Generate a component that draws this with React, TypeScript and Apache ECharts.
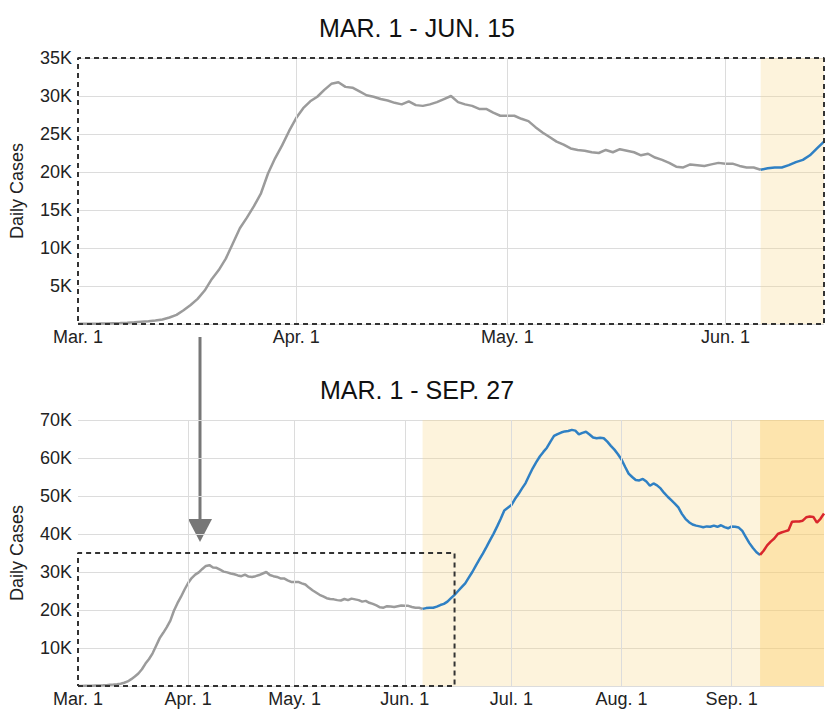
import React, { useEffect, useRef } from "react";
import * as echarts from "echarts";

// Daily new cases (thousands), one value per day from Mar. 1 (index 0) to Sep. 27 (index 210)
const dailyCases: number[] = [
  0.02, 0.03, 0.04, 0.05, 0.07, 0.1, 0.13, 0.17, 0.22, 0.3,
  0.37, 0.45, 0.6, 0.85, 1.2, 1.8, 2.5, 3.3, 4.4, 5.9,
  7.1, 8.6, 10.6, 12.6, 14.0, 15.5, 17.2, 19.8, 21.8, 23.5,
  25.4, 27.1, 28.4, 29.3, 29.9, 30.8, 31.6, 31.8, 31.2, 31.1,
  30.6, 30.1, 29.9, 29.6, 29.4, 29.1, 28.9, 29.3, 28.8, 28.7,
  28.9, 29.2, 29.6, 30.0, 29.2, 28.9, 28.7, 28.3, 28.3, 27.8,
  27.4, 27.4, 27.4, 27.0, 26.7, 25.9, 25.2, 24.6, 24.0, 23.6,
  23.1, 22.9, 22.8, 22.6, 22.5, 22.9, 22.6, 23.0, 22.8, 22.6,
  22.2, 22.4, 21.9, 21.6, 21.2, 20.7, 20.6, 21.0, 20.9, 20.8,
  21.0, 21.2, 21.1, 21.1, 20.8, 20.6, 20.6, 20.3, 20.5, 20.6,
  20.6, 20.9, 21.3, 21.6, 22.2, 23.1, 24.0, 25.0, 26.0, 27.0,
  28.5, 30.0, 31.7, 33.3, 34.9, 36.6, 38.4, 40.1, 42.0, 44.0,
  46.2, 46.9, 47.6, 49.2, 50.5, 52.0, 53.4, 55.4, 57.3, 58.9,
  60.4, 61.6, 62.7, 64.3, 65.8, 66.3, 66.7, 67.0, 67.1, 67.4,
  67.2, 66.2, 66.6, 66.9, 66.2, 65.4, 65.2, 65.3, 65.2, 64.3,
  63.2, 62.2, 61.0, 59.6, 57.7, 55.9, 55.0, 54.2, 54.1, 54.5,
  53.8, 52.7, 53.3, 52.8, 52.0, 50.8, 49.8, 48.9, 48.0, 47.0,
  45.3, 44.0, 43.1, 42.5, 42.2, 42.0, 41.8, 42.0, 41.9, 42.2,
  41.9, 42.3, 41.8, 41.5, 42.0, 41.9, 41.7, 40.8, 39.2, 37.6,
  36.3, 35.2, 34.5, 35.6, 37.0, 38.0, 38.8, 40.0, 40.4, 40.7,
  41.0, 43.2, 43.3, 43.3, 43.5, 44.4, 44.6, 44.5, 43.0, 44.0,
  45.4,
];

// Phase boundaries (day index from Mar. 1)
const blueStartDay = 97; // Jun. 6
const redStartDay = 192; // Sep. 9
const zoomEndDay = 106; // Jun. 15
const lastDay = 210; // Sep. 27
const zoomMaxCases = 35;

// Month tick positions and labels
const monthStartDays = [0, 31, 61, 92, 122, 153, 184];
const monthLabels = ["Mar. 1", "Apr. 1", "May. 1", "Jun. 1", "Jul. 1", "Aug. 1", "Sep. 1"];

const titles = ["MAR. 1 - JUN. 15", "MAR. 1 - SEP. 27"];

const GRAY = "#9b9b9b";
const BLUE = "#2f80c4";
const RED = "#d9262c";
const GRID = "#dcdcdc";
const FONT = "'Liberation Sans', Arial, Helvetica, sans-serif";

function pairs(from: number, to: number) {
  const out: [number, number][] = [];
  for (let d = from; d <= to && d < dailyCases.length; d++) out.push([d, dailyCases[d]]);
  return out;
}

const labelFor = (v: number) => {
  const i = monthStartDays.indexOf(Math.round(v));
  return i >= 0 ? monthLabels[i] : "";
};

export default function App() {
  const ref = useRef<HTMLDivElement>(null);

  useEffect(() => {
    document.body.style.margin = "0";
    const chart = echarts.init(ref.current!, null, { renderer: "svg" });

    const rect = [
      [0, 0],
      [zoomEndDay, 0],
      [zoomEndDay, zoomMaxCases],
      [0, zoomMaxCases],
      [0, 0],
    ];

    const xAxisBase = (gridIndex: number, max: number) => {
      const ticks = monthStartDays.filter((d) => d <= max);
      return {
        gridIndex,
        type: "value",
        min: 0,
        max,
        axisLine: { show: false },
        axisTick: { show: false, customValues: ticks },
        splitLine: { show: false },
        axisLabel: {
          customValues: ticks,
          formatter: (v: number) => labelFor(v),
          color: "#222",
          fontSize: 18,
          fontFamily: FONT,
          margin: 4,
        },
      };
    };

    const yAxisBase = (gridIndex: number, max: number, interval: number) => ({
      gridIndex,
      type: "value",
      min: 0,
      max,
      interval,
      axisLine: { show: false },
      axisTick: { show: false },
      splitLine: { lineStyle: { color: GRID, width: 1 } },
      axisLabel: {
        formatter: (v: number) => (v === 0 ? "" : v + "K"),
        color: "#222",
        fontSize: 18,
        fontFamily: FONT,
        margin: 6,
      },
      name: "Daily Cases",
      nameLocation: "middle",
      nameGap: 52,
      nameTextStyle: { fontSize: 18, color: "#222", fontFamily: FONT },
    });

    const lineSeries = (axis: number, data: [number, number][], color: string) => ({
      type: "line",
      xAxisIndex: axis,
      yAxisIndex: axis,
      data,
      showSymbol: false,
      symbol: "none",
      smooth: false,
      z: 4,
      lineStyle: { color, width: 2.5 },
    });

    const monthLines = (max: number) => ({
      silent: true,
      symbol: ["none", "none"],
      label: { show: false },
      lineStyle: { color: GRID, type: "solid", width: 1 },
      data: monthStartDays.filter((d) => d > 0 && d < max).map((d) => ({ xAxis: d })),
    });

    const option: any = {
      animation: false,
      textStyle: { fontFamily: FONT },
      title: [
        {
          text: titles[0],
          left: "center",
          top: 15,
          padding: 0,
          textStyle: { fontSize: 25, fontWeight: "normal", color: "#111", fontFamily: FONT },
        },
        {
          text: titles[1],
          left: "center",
          top: 377,
          padding: 0,
          textStyle: { fontSize: 25, fontWeight: "normal", color: "#111", fontFamily: FONT },
        },
      ],
      grid: [
        { left: 74, top: 58, width: 750, height: 266 },
        { left: 74, top: 420, width: 750, height: 266 },
      ],
      xAxis: [xAxisBase(0, zoomEndDay), xAxisBase(1, lastDay)],
      yAxis: [yAxisBase(0, 35, 5), yAxisBase(1, 70, 10)],
      series: [
        // top panel: shading + month lines
        {
          type: "line",
          xAxisIndex: 0,
          yAxisIndex: 0,
          data: [],
          z: 1,
          markLine: monthLines(zoomEndDay),
          markArea: {
            silent: true,
            itemStyle: { color: "rgba(250,215,140,0.3)" },
            data: [[{ xAxis: blueStartDay }, { xAxis: zoomEndDay }]],
          },
        },
        lineSeries(0, pairs(0, blueStartDay), GRAY),
        lineSeries(0, pairs(blueStartDay, zoomEndDay), BLUE),
        {
          type: "line",
          xAxisIndex: 0,
          yAxisIndex: 0,
          data: rect,
          showSymbol: false,
          symbol: "none",
          clip: false,
          z: 5,
          lineStyle: { color: "#333", width: 2, type: [5, 4] },
        },
        // bottom panel
        {
          type: "line",
          xAxisIndex: 1,
          yAxisIndex: 1,
          data: [],
          z: 1,
          markLine: monthLines(lastDay),
          markArea: {
            silent: true,
            data: [
              [{ xAxis: blueStartDay, itemStyle: { color: "rgba(250,215,140,0.3)" } }, { xAxis: redStartDay }],
              [{ xAxis: redStartDay, itemStyle: { color: "rgba(251,205,105,0.55)" } }, { xAxis: lastDay }],
            ],
          },
        },
        lineSeries(1, pairs(0, blueStartDay), GRAY),
        lineSeries(1, pairs(blueStartDay, redStartDay), BLUE),
        lineSeries(1, pairs(redStartDay, lastDay), RED),
        {
          type: "line",
          xAxisIndex: 1,
          yAxisIndex: 1,
          data: rect,
          showSymbol: false,
          symbol: "none",
          clip: false,
          z: 5,
          lineStyle: { color: "#333", width: 2, type: [5, 4] },
        },
      ],
      graphic: [
        {
          type: "line",
          shape: { x1: 200, y1: 337, x2: 200, y2: 522 },
          style: { stroke: "#777", lineWidth: 3 },
        },
        {
          type: "polygon",
          shape: { points: [[188, 519], [212, 519], [200, 542]] },
          style: { fill: "#777" },
        },
      ],
    };

    chart.setOption(option);
    return () => chart.dispose();
  }, []);

  return <div ref={ref} style={{ width: 834, height: 711 }} />;
}
